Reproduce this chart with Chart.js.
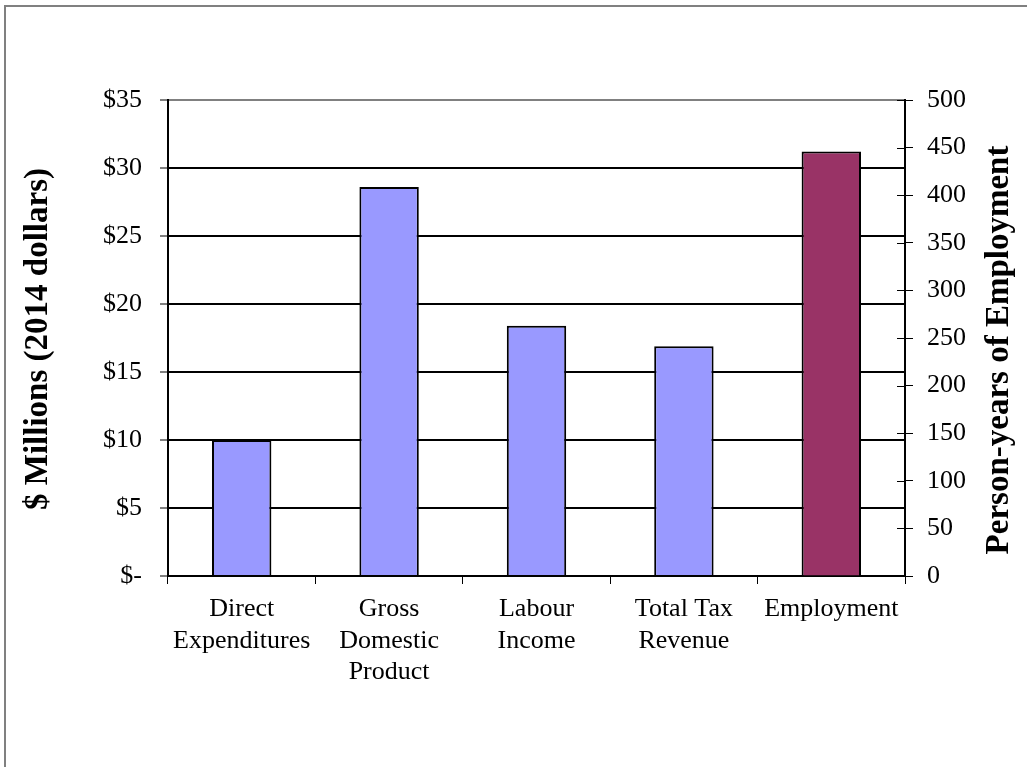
<!DOCTYPE html>
<html>
<head>
<meta charset="utf-8">
<title>Economic Impact</title>
<script src="https://cdn.jsdelivr.net/npm/chart.js@4.4.1/dist/chart.umd.min.js"></script>
<style>
  html, body { margin: 0; padding: 0; background: #fff; }
  #wrap { position: relative; width: 1027px; height: 767px; }
</style>
</head>
<body>
<div id="wrap"><canvas id="impactChart" width="1027" height="767"></canvas></div>
<script>
// Chart data
const categories = [
    ['Direct', 'Expenditures'],
    ['Gross', 'Domestic', 'Product'],
    ['Labour', 'Income'],
    ['Total Tax', 'Revenue'],
    'Employment'
];
const dollarValues = [10, 28.6, 18.4, 16.9, null];
const employmentValues = [null, null, null, null, 446];
const dollarAxisTitle = '$ Millions (2014 dollars)';
const employmentAxisTitle = 'Person-years of Employment';

const serif = "'Liberation Serif', 'Times New Roman', serif";
const tickFont = { family: serif, size: 26, lineHeight: 1.2 };

// Frame, rotated axis titles and inward ticks on the right axis
const decorations = {
    id: 'decorations',
    afterDraw(chart) {
        const ctx = chart.ctx;
        const area = chart.chartArea;
        const right = chart.scales.y1;

        ctx.save();
        // outer frame (top and left edges only)
        ctx.strokeStyle = '#808080';
        ctx.lineWidth = 2;
        ctx.beginPath();
        ctx.moveTo(5, chart.height);
        ctx.lineTo(5, 6);
        ctx.lineTo(chart.width, 6);
        ctx.stroke();

        // inward tick marks on the right axis
        ctx.strokeStyle = '#000';
        ctx.lineWidth = 1;
        right.ticks.forEach(t => {
            const y = Math.round(right.getPixelForValue(t.value)) + 0.5;
            ctx.beginPath();
            ctx.moveTo(area.right - 8, y);
            ctx.lineTo(area.right, y);
            ctx.stroke();
        });

        // axis titles, both reading bottom to top
        ctx.fillStyle = '#000';
        ctx.font = 'bold 33px ' + serif;
        ctx.textAlign = 'center';
        ctx.textBaseline = 'middle';
        const midY = (area.top + area.bottom) / 2;

        ctx.save();
        ctx.translate(38, midY + 1);
        ctx.rotate(-Math.PI / 2);
        ctx.fillText(dollarAxisTitle, 0, 0);
        ctx.restore();

        ctx.save();
        ctx.translate(999, midY + 12);
        ctx.rotate(-Math.PI / 2);
        ctx.fillText(employmentAxisTitle, 0, 0);
        ctx.restore();

        ctx.restore();
    }
};

const chart = new Chart(document.getElementById('impactChart'), {
    type: 'bar',
    data: {
        labels: categories,
        datasets: [
            {
                label: 'Dollars',
                data: dollarValues,
                yAxisID: 'y',
                backgroundColor: '#9999FF',
                borderColor: '#000',
                borderWidth: 2
            },
            {
                label: 'Employment',
                data: employmentValues,
                yAxisID: 'y1',
                backgroundColor: '#993366',
                borderColor: '#000',
                borderWidth: 2
            }
        ]
    },
    options: {
        responsive: false,
        devicePixelRatio: 1,
        animation: false,
        grouped: false,
        barPercentage: 0.403,
        categoryPercentage: 1,
        layout: { padding: { top: 100, left: 0, right: 0, bottom: 0 } },
        plugins: {
            legend: { display: false },
            tooltip: { enabled: false }
        },
        scales: {
            x: {
                position: 'bottom',
                grid: {
                    display: true,
                    drawOnChartArea: false,
                    offset: true,
                    tickLength: 8,
                    color: '#000'
                },
                border: { color: '#000', width: 2 },
                ticks: {
                    font: tickFont,
                    color: '#000',
                    padding: 10,
                    maxRotation: 0,
                    autoSkip: false
                },
                afterFit: s => { s.height = 191; }
            },
            y: {
                position: 'left',
                min: 0,
                max: 35,
                ticks: {
                    stepSize: 5,
                    font: tickFont,
                    color: '#000',
                    padding: 18,
                    callback: v => v === 0 ? '$-' : '$' + v
                },
                grid: {
                    color: c => c.tick && c.tick.value === 35 ? '#808080' : '#000',
                    lineWidth: 2,
                    tickLength: 8,
                    tickColor: '#000',
                    tickWidth: 1
                },
                border: { color: '#000', width: 2 },
                afterFit: s => { s.width = 168; }
            },
            y1: {
                position: 'right',
                min: 0,
                max: 500,
                ticks: {
                    stepSize: 50,
                    font: tickFont,
                    color: '#000',
                    padding: 14
                },
                grid: {
                    drawOnChartArea: false,
                    tickLength: 8,
                    tickColor: '#000',
                    tickWidth: 1
                },
                border: { color: '#000', width: 2 },
                afterFit: s => { s.width = 122; }
            }
        }
    },
    plugins: [decorations]
});
</script>
</body>
</html>
